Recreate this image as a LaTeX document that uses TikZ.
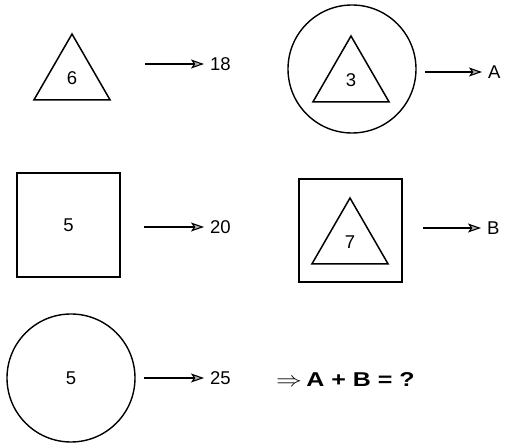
\documentclass[tikz,border=0pt]{standalone}
\usepackage{fontspec}
\setmainfont{Liberation Sans}
\usetikzlibrary{arrows.meta,shapes.geometric}
\newcommand{\pzfont}{\fontsize{18.5}{22}\selectfont}
\newcommand{\pzbig}{\fontsize{20}{24}\selectfont}
\tikzset{
  puzzle/.style={font=\pzfont, x=1pt, y=-1pt},
  % an equilateral triangle holding a number
  tribox/.style={regular polygon, regular polygon sides=3, draw=black,
                 line width=1.5pt, minimum size=88pt, inner sep=0pt},
  % a large circle, round a number or a triangle
  ringbox/.style={circle, draw=black, line width=1.4pt, minimum size=128pt,
                  inner sep=0pt},
  % a square, round a number or a triangle
  sqbox/.style={rectangle, draw=black, line width=1.5pt,
                minimum width=103pt, minimum height=104pt, inner sep=0pt},
  % the arrow to the value
  maparrow/.style={draw=black, line width=1.1pt,
                   -{Stealth[length=13pt,width=9pt,inset=3pt,fill=gray!60]}},
  % the value an arrow points at
  result/.style={anchor=west, inner xsep=6pt, inner ysep=0pt},
}
% name, arrow start x, y, arrow tip x, value
\newcommand{\outcome}[5]{%
  \coordinate (#1from) at (#2,#3);%
  \node[result] (#1) at (#4,#3) {#5};%
  \draw[maparrow] (#1from) -- (#1.west);%
}

\begin{document}
\begin{tikzpicture}[puzzle]
  \useasboundingbox (0,0) rectangle (507,443);

  % top row: triangle, and triangle in a circle
  \node[tribox] (tri6) at (72,78) {6};
  \outcome{v18}{145}{64}{204}{18}
  \node[ringbox] (ringA) at (352,69) {};
  \node[tribox] (tri3) at (351,80) {3};
  \outcome{vA}{425}{72}{482}{A}

  % middle row: square, and triangle in a square
  \node[sqbox] (sq5) at (68.5,225) {5};
  \outcome{v20}{144}{227}{204}{20}
  \node[sqbox, minimum height=103pt] (sqB) at (350.5,230.5) {};
  \node[tribox] (tri7) at (350,242) {7};
  \outcome{vB}{423}{228}{481}{B}

  % bottom row: circle, and the question
  \node[ringbox] (ring5) at (71,378) {5};
  \outcome{v25}{144}{378}{204}{25}
  \node[font=\pzbig\bfseries, anchor=west, inner sep=0pt] (ask)
    at (276,380) {\scalebox{1.25}[1]{$\Rightarrow$\,A + B = ?}};
\end{tikzpicture}
\end{document}
